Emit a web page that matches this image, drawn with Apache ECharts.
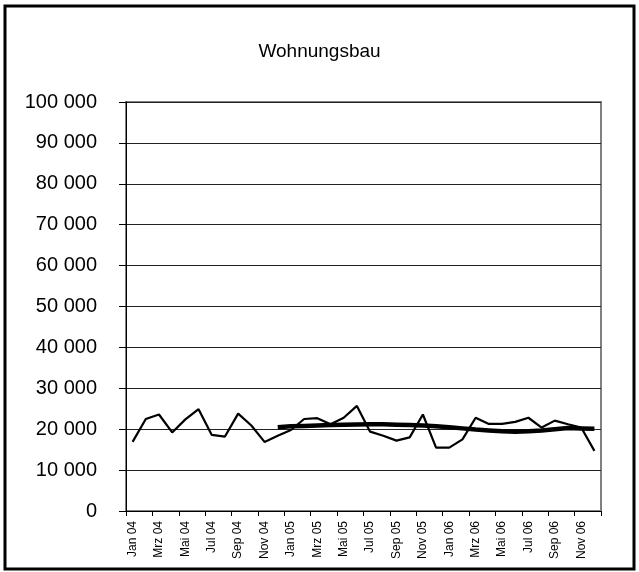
<!DOCTYPE html>
<html>
<head>
<meta charset="utf-8">
<script src="https://cdn.jsdelivr.net/npm/echarts@6/dist/echarts.min.js"></script>
<style>
html,body{margin:0;padding:0;background:#fff;}
#c{width:639px;height:572px;}
</style>
</head>
<body>
<div id="c"></div>
<script>
const months = ['Jan','Feb','Mrz','Apr','Mai','Jun','Jul','Aug','Sep','Okt','Nov','Dez'];
const years = ['04','05','06'];
const categories = [];
years.forEach(y => months.forEach(m => categories.push(m + ' ' + y)));

// Monthly values (thin line), Jan 04 - Dez 06
const monthly = [16900, 22500, 23600, 19200, 22400, 24900, 18600, 18200, 23800, 20900, 16900, 18400,
                 19800, 22500, 22700, 21200, 22800, 25700, 19400, 18400, 17200, 18000, 23600, 15500,
                 15500, 17500, 22800, 21300, 21300, 21800, 22800, 20400, 22100, 21200, 20400, 14700];

// Trend (thick line), starting Dez 04
const trend = [null, null, null, null, null, null, null, null, null, null, null,
               20500, 20700, 20800, 20900, 21000, 21100, 21150, 21200, 21200, 21100, 21000, 20900, 20700,
               20500, 20200, 19900, 19700, 19500, 19400, 19500, 19700, 20000, 20300, 20200, 20100];

const yMin = 0, yMax = 100000, yStep = 10000;
const FONT = '"Liberation Sans", Arial, sans-serif';

const chart = echarts.init(document.getElementById('c'), null, {renderer: 'canvas'});
chart.setOption({
  animation: false,
  backgroundColor: '#fff',
  title: {
    text: 'Wohnungsbau',
    left: 'center',
    top: 37,
    textStyle: {fontFamily: FONT, fontSize: 19, fontWeight: 'normal', color: '#000'}
  },
  graphic: [{
    type: 'rect',
    shape: {x: 5, y: 6, width: 629, height: 563},
    style: {fill: 'none', stroke: '#000', lineWidth: 3},
    z: 100
  }],
  grid: {
    left: 126, right: 38, top: 102, bottom: 61,
    show: true, borderColor: '#808080', borderWidth: 2, backgroundColor: 'transparent'
  },
  xAxis: {
    type: 'category',
    data: categories,
    boundaryGap: true,
    axisLine: {lineStyle: {color: '#000', width: 1}},
    axisTick: {show: true, interval: 1, length: 5, inside: false, alignWithLabel: false, lineStyle: {color: '#000'}},
    axisLabel: {interval: 1, rotate: 90, margin: 10, fontFamily: FONT, fontSize: 12, color: '#000'},
    splitLine: {show: false}
  },
  yAxis: {
    type: 'value',
    min: yMin, max: yMax, interval: yStep,
    axisLine: {show: true, lineStyle: {color: '#000', width: 1}},
    axisTick: {show: true, length: 7, lineStyle: {color: '#000'}},
    axisLabel: {
      margin: 29, fontFamily: FONT, fontSize: 20, color: '#000',
      formatter: v => String(v).replace(/\B(?=(\d{3})+(?!\d))/g, ' ')
    },
    splitLine: {show: true, lineStyle: {color: '#222', width: 1}}
  },
  series: [
    {
      type: 'line', data: monthly, symbol: 'none',
      lineStyle: {color: '#000', width: 2.2}, z: 3
    },
    {
      type: 'line', data: trend, symbol: 'none', connectNulls: false,
      lineStyle: {color: '#000', width: 4.5}, z: 4
    }
  ]
});
</script>
</body>
</html>
